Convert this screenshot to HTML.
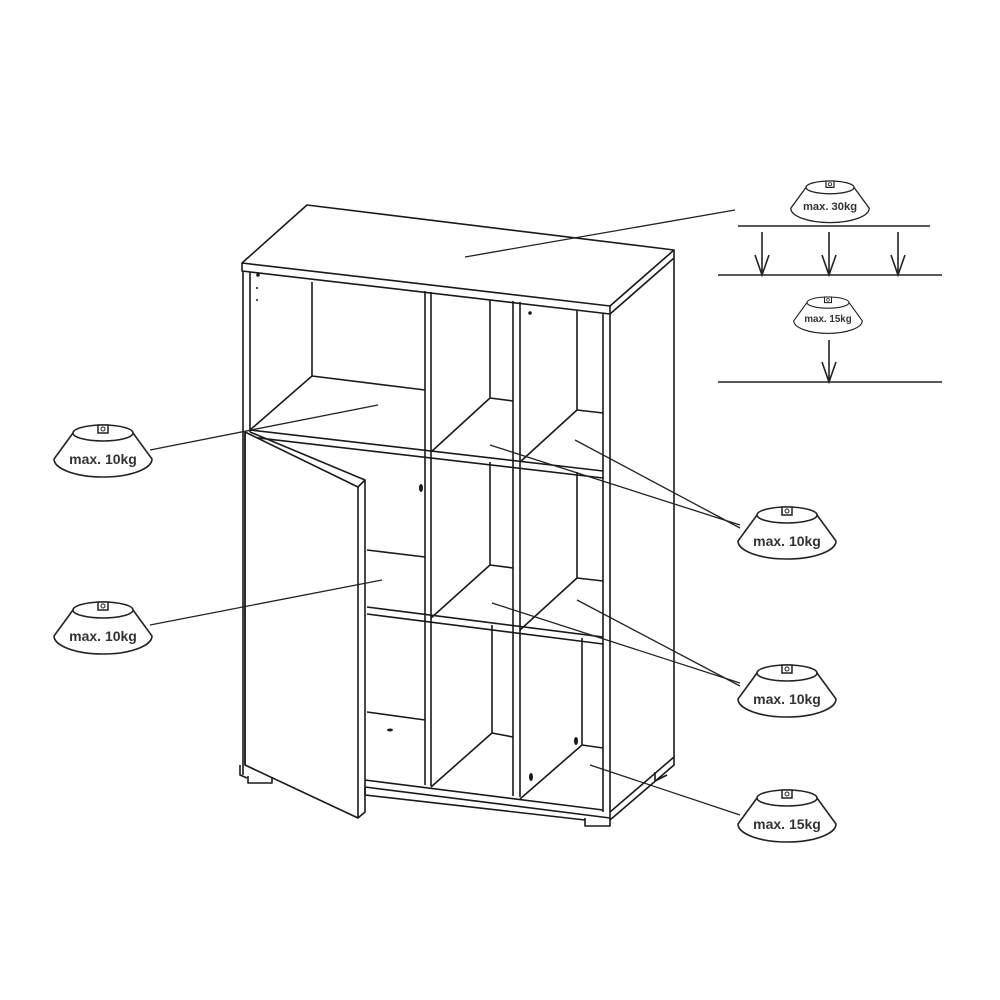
<!DOCTYPE html>
<html><head><meta charset="utf-8"><style>
html,body{margin:0;padding:0;background:#fff}
svg{display:block}
text{font-family:"Liberation Sans",Arial,sans-serif;font-weight:bold;fill:#333}
</style></head><body>
<svg width="1000" height="1000" viewBox="0 0 1000 1000" xmlns="http://www.w3.org/2000/svg">
<defs>
<g id="ws">
<path d="M-30,-22 L-49,4 A49,18 0 0 0 49,4 L30,-22" fill="#fff" stroke="#222" stroke-width="1.6"/>
<ellipse cx="0" cy="-22" rx="30" ry="8" fill="#fff" stroke="#222" stroke-width="1.6"/>
<rect x="-5" y="-30" width="10" height="8" fill="#fff" stroke="#222" stroke-width="1.5"/>
<circle cx="0" cy="-26" r="2" fill="none" stroke="#222" stroke-width="1"/>
</g>
</defs>
<g fill="none" stroke="#1a1a1a" stroke-width="1.6" stroke-linejoin="round">
<path d="M242,263 L307,205 L674,250 L610,306 Z" fill="#fff"/>
<path d="M242,263 L242,271 L610,314 L610,306"/>
<path d="M610,314 L674,258 L674,250"/>
<path d="M674,258 L674,757 L610,812"/>
<path d="M674,757 L674,765 L610,820"/>
<path d="M243,271 L243,775 M250,272 L250,432"/>
<path d="M603,313 L603,812 M610,314 L610,820"/>
<path d="M425,291 L425,785 M431,292 L431,786"/>
<path d="M513,301 L513,796 M520,302 L520,797"/>
<path d="M250,430 L603,471 M250,437 L603,478"/>
<path d="M367,607 L603,637 M367,614 L603,644"/>
<path d="M365,780 L603,810 M365,787 L610,818 M365,787 L365,795 L585,820"/>
<path d="M585,818 L585,826 L610,826 L610,820"/>
<path d="M655,772 L655,781 L667,775"/>
<path d="M240,765 L240,775 L247,778 M248,776 L248,783 L272,783 L272,775"/>
<path d="M312,282 L312,376 L425,390 M312,376 L250,430"/>
<path d="M367,550 L425,557 M367,712 L425,720"/>
<path d="M490,300 L490,398 L513,401 M490,398 L431,452"/>
<path d="M490,462 L490,565 L513,568 M490,565 L431,618"/>
<path d="M492,625 L492,733 L513,737 M492,733 L431,787"/>
<path d="M577,310 L577,410 L603,413 M577,410 L520,462"/>
<path d="M577,472 L577,578 L603,581 M577,578 L520,630"/>
<path d="M582,638 L582,745 L603,748 M582,745 L520,799"/>
<path d="M245,432 L358,487 L358,818 L245,765 Z" fill="#fff"/>
<path d="M250,432 L365,480 L365,812 L358,818 M358,487 L365,480"/>
<path d="M245,432 L245,765"/>
</g>
<g fill="#1a1a1a">
<ellipse cx="421" cy="488" rx="2" ry="4"/>
<ellipse cx="576" cy="741" rx="2" ry="4"/>
<ellipse cx="531" cy="777" rx="2" ry="4"/>
<ellipse cx="390" cy="730" rx="3" ry="1.5"/>
<circle cx="258" cy="275" r="1.8"/><circle cx="257" cy="288" r="1"/><circle cx="257" cy="300" r="1"/>
<circle cx="530" cy="313" r="1.8"/>
</g>
<g stroke="#222" stroke-width="1.3">
<line x1="465" y1="257" x2="735" y2="210"/>
<line x1="150" y1="450" x2="378" y2="405"/>
<line x1="150" y1="625" x2="382" y2="580"/>
<line x1="490" y1="445" x2="740" y2="525"/>
<line x1="575" y1="440" x2="740" y2="528"/>
<line x1="492" y1="603" x2="740" y2="683"/>
<line x1="577" y1="600" x2="740" y2="686"/>
<line x1="590" y1="765" x2="740" y2="815"/>
</g>
<g stroke="#222" stroke-width="1.6" fill="none">
<line x1="738" y1="226" x2="930" y2="226"/>
<line x1="718" y1="275" x2="942" y2="275"/>
<line x1="718" y1="382" x2="942" y2="382"/>
<path d="M762,232 L762,275 M755,255 L762,275 L769,255"/>
<path d="M829,232 L829,275 M822,255 L829,275 L836,255"/>
<path d="M898,232 L898,275 M891,255 L898,275 L905,255"/>
<path d="M829,340 L829,382 M822,362 L829,382 L836,362"/>
</g>
<g transform="translate(103,455)"><use href="#ws"/><text x="0" y="9" font-size="14" text-anchor="middle">max. 10kg</text></g>
<g transform="translate(103,632)"><use href="#ws"/><text x="0" y="9" font-size="14" text-anchor="middle">max. 10kg</text></g>
<g transform="translate(787,537)"><use href="#ws"/><text x="0" y="9" font-size="14" text-anchor="middle">max. 10kg</text></g>
<g transform="translate(787,695)"><use href="#ws"/><text x="0" y="9" font-size="14" text-anchor="middle">max. 10kg</text></g>
<g transform="translate(787,820)"><use href="#ws"/><text x="0" y="9" font-size="14" text-anchor="middle">max. 15kg</text></g>
<g transform="translate(830,205) scale(0.8)"><use href="#ws"/><text x="0" y="6" font-size="14" text-anchor="middle">max. 30kg</text></g>
<g transform="translate(828,318) scale(0.7)"><use href="#ws"/><text x="0" y="6" font-size="14" text-anchor="middle">max. 15kg</text></g>
</svg>
</body></html>
